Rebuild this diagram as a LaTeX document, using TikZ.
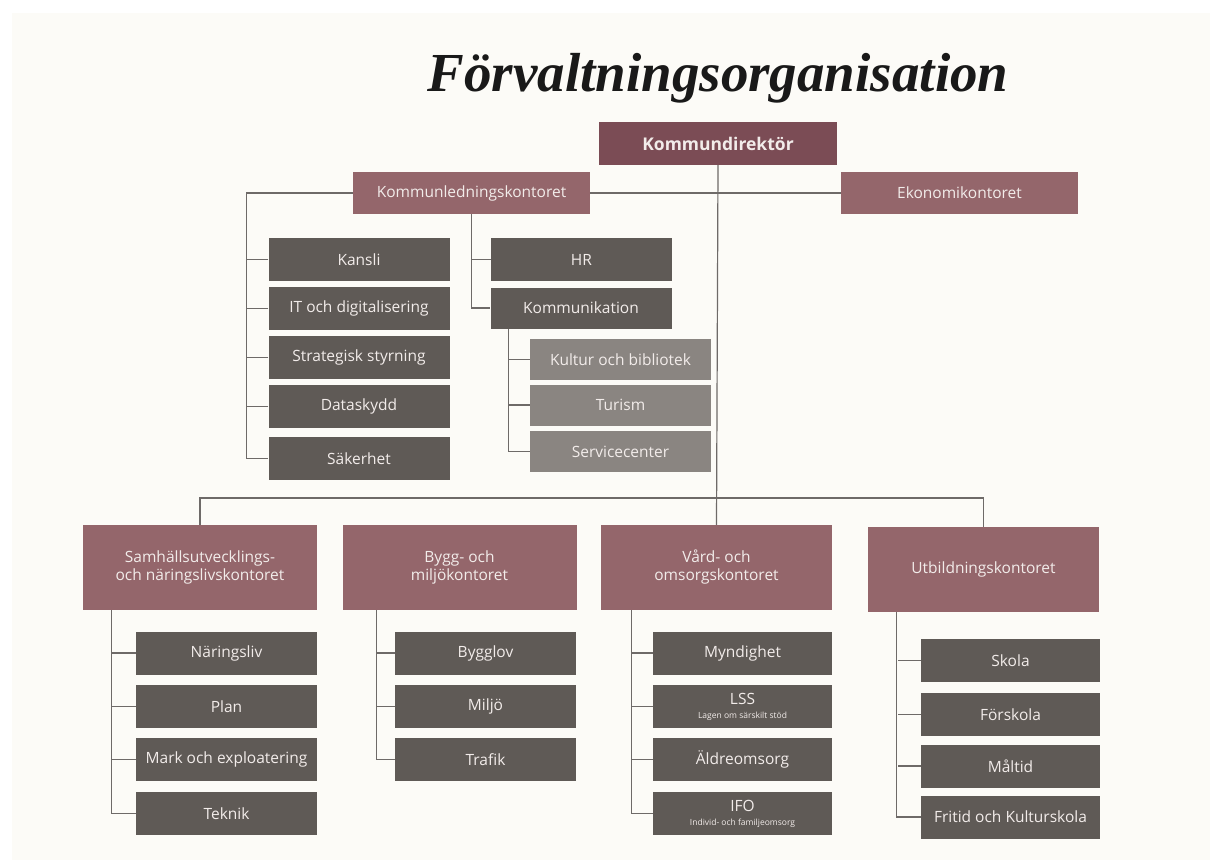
\documentclass[tikz,border=0pt]{standalone}
\usepackage{fontspec}
\setmainfont{Open Sans}
\newfontfamily\titlefont{Liberation Serif}
\definecolor{bgc}{HTML}{FCFBF7}
\definecolor{kdc}{HTML}{7B4C55}
\definecolor{mauve}{HTML}{94666B}
\definecolor{darkb}{HTML}{5F5A56}
\definecolor{lightb}{HTML}{8A8581}
\definecolor{linec}{HTML}{6E6A68}
\definecolor{txtc}{HTML}{F2ECEA}
\begin{document}
\begin{tikzpicture}[x=1pt,y=-1pt,
  base/.style={rectangle,inner sep=0pt,align=center,text=txtc,font=\fontsize{15.5}{18}\selectfont},
  top/.style={base,fill=mauve,minimum width=237,minimum height=42},
  office/.style={base,fill=mauve,minimum width=234,minimum height=85},
  unit/.style={base,fill=darkb,minimum width=181,minimum height=43},
  subunit/.style={base,fill=lightb,minimum width=181,minimum height=41},
  conn/.style={draw=linec,line width=1.2pt}]
\useasboundingbox (0,0) rectangle (1210,860);
\fill[white] (0,0) rectangle (1210,860);
\fill[bgc] (12,13) rectangle (1210,860);
% title
\node[inner sep=0pt,text=black!90] (title) at (718,78) {\titlefont\bfseries\itshape\fontsize{55}{55}\selectfont Förvaltningsorganisation};
% top
\node[base,fill=kdc,minimum width=238,minimum height=43,font=\fontsize{17.5}{20}\selectfont\bfseries] (kd) at (718,143.5) {Kommundirektör};
\node[top] (kl) at (471.5,193) {Kommunledningskontoret};
\node[top] (eko) at (959.5,193) {Ekonomikontoret};
% left column
\node[unit] (kansli) at (359,259.5) {Kansli};
\node[unit] (it) at (359,308.5) {IT och digitalisering};
\node[unit] (strat) at (359,357.5) {Strategisk styrning};
\node[unit] (data) at (359,406.5) {Dataskydd};
\node[unit] (sak) at (359,458.5) {Säkerhet};
% middle
\node[unit] (hr) at (581.5,259.5) {HR};
\node[unit,minimum height=41] (komm) at (581,308) {Kommunikation};
\node[subunit] (kult) at (620.5,359.5) {Kultur och bibliotek};
\node[subunit] (tur) at (620.5,405) {Turism};
\node[subunit] (serv) at (620.5,451.5) {Servicecenter};
% offices
\node[office] (samh) at (200,567.5) {Samhällsutvecklings-\\och näringslivskontoret};
\node[office] (bygg) at (459.5,567.5) {Bygg- och\\miljökontoret};
\node[office,minimum width=231] (vard) at (716.5,567.5) {Vård- och\\omsorgskontoret};
\node[office,minimum width=231] (utb) at (983.5,569.5) {Utbildningskontoret};
% samh units
\node[unit] (nar) at (226.5,653) {Näringsliv};
\node[unit] (plan) at (226.5,706.5) {Plan};
\node[unit] (mark) at (226.5,759.5) {Mark och exploatering};
\node[unit] (tek) at (226.5,813.5) {Teknik};
% bygg units
\node[unit] (bl) at (485.5,653) {Bygglov};
\node[unit] (mil) at (485.5,706.5) {Miljö};
\node[unit] (traf) at (485.5,759.5) {Trafik};
% vard units
\node[unit,minimum width=179] (myn) at (742.5,653) {Myndighet};
\node[unit,minimum width=179] (lss) at (742.5,706.5) {LSS\\[-4pt]{\fontsize{8.5}{9}\selectfont Lagen om särskilt stöd}};
\node[unit,minimum width=179] (ald) at (742.5,759.5) {Äldreomsorg};
\node[unit,minimum width=179] (ifo) at (742.5,813.5) {IFO\\[-4pt]{\fontsize{8.5}{9}\selectfont Individ- och familjeomsorg}};
% utb units
\node[unit,minimum width=179] (sko) at (1010.5,660.5) {Skola};
\node[unit,minimum width=179] (forsk) at (1010.5,714.5) {Förskola};
\node[unit,minimum width=179] (mal) at (1010.5,766) {Måltid};
\node[unit,minimum width=179] (frit) at (1010.5,817) {Fritid och Kulturskola};
% connectors
\coordinate (bus) at (718,498);
\draw[conn] (kl.east) -- (eko.west);
\draw[conn] (kd.south) -- (vard.north);
\draw[conn] (samh.north) |- (bus) -| (utb.north);
% left bracket
\draw[conn] (kl.west) -| ([xshift=-22]sak.west) -- (sak.west);
\foreach \n in {kansli,it,strat,data} \draw[conn] (\n.west) -- ++(-22,0);
% middle
\draw[conn] (kl.south) |- (komm.west);
\draw[conn] (hr.west) -- ++(-19,0);
\draw[conn] ([xshift=18]komm.south west) |- (serv.west);
\foreach \n in {kult,tur} \draw[conn] (\n.west) -- ++(-21,0);
% offices
\draw[conn] ([xshift=29]samh.south west) |- (tek.west);
\foreach \n in {nar,plan,mark} \draw[conn] (\n.west) -- ++(-24,0);
\draw[conn] ([xshift=34]bygg.south west) |- (traf.west);
\foreach \n in {bl,mil} \draw[conn] (\n.west) -- ++(-18,0);
\draw[conn] ([xshift=31]vard.south west) |- (ifo.west);
\foreach \n in {myn,lss,ald} \draw[conn] (\n.west) -- ++(-21,0);
\draw[conn] ([xshift=29]utb.south west) |- (frit.west);
\foreach \n in {sko,forsk,mal} \draw[conn] (\n.west) -- ++(-23,0);
\end{tikzpicture}
\end{document}
